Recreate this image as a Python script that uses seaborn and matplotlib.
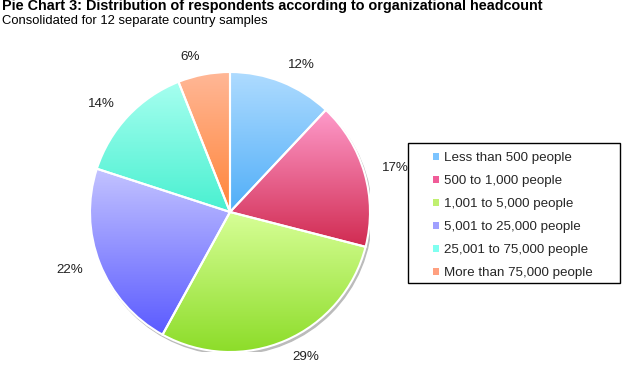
import numpy as np
import matplotlib
matplotlib.use("Agg")
import matplotlib.pyplot as plt
import seaborn as sns
from matplotlib.colors import LinearSegmentedColormap
from matplotlib.patches import Rectangle

categories = ["Less than 500 people", "500 to 1,000 people", "1,001 to 5,000 people",
              "5,001 to 25,000 people", "25,001 to 75,000 people", "More than 75,000 people"]
values = [12, 17, 29, 22, 14, 6]
top_colors = ["#b0dcff", "#ff9ccc", "#d8ff98", "#c4c4ff", "#a8fff0", "#ffb898"]
bottom_colors = ["#50aef8", "#d02a50", "#8cdc28", "#5a5aff", "#48f0d0", "#ff8438"]
legend_colors = ["#7cc4ff", "#f05c98", "#c0f070", "#a0a0ff", "#80fff0", "#ffa080"]

sns.set_theme(style="white")
plt.rcParams['font.family'] = ['Liberation Sans', 'DejaVu Sans']

W, H = 633, 383
fig = plt.figure(figsize=(W/100, H/100), dpi=100)
cx, cy, r = 230, 212, 140
ax = fig.add_axes([(cx - r)/W, (H - cy - r)/H, 2*r/W, 2*r/H])
ax.axis("off")

shadow = plt.Circle((0.012, -0.018), 1.0, color="#bbbbbb", zorder=0)
ax.add_patch(shadow)

wedges, texts = ax.pie(values, startangle=90, counterclock=False, radius=1.0,
                       labels=[f"{v}%" for v in values], labeldistance=1.13,
                       wedgeprops=dict(edgecolor="white", linewidth=1.5),
                       textprops=dict(fontsize=9.6, color="#222222"))

for w, c1, c2 in zip(wedges, top_colors, bottom_colors):
    w.set_facecolor("none")
    w.set_zorder(3)
    th = np.radians(np.linspace(w.theta1, w.theta2, 100))
    ys = np.concatenate([[0], np.sin(th)])
    xs = np.concatenate([[0], np.cos(th)])
    y0, y1 = ys.min(), ys.max()
    x0, x1 = xs.min(), xs.max()
    cmap = LinearSegmentedColormap.from_list("g", [c2, c1])
    grad = np.linspace(0, 1, 256).reshape(-1, 1)
    im = ax.imshow(grad, cmap=cmap, origin="lower",
                   extent=[x0 - 0.01, x1 + 0.01, y0 - 0.01, y1 + 0.01],
                   aspect="auto", zorder=2, interpolation="bilinear")
    im.set_clip_path(w.get_path(), transform=w.get_transform())

ax.set_xlim(-1, 1)
ax.set_ylim(-1, 1)
for t in texts:
    t.set_zorder(5)

fig.text(2/W, 1 - 6/H, "Pie Chart 3: Distribution of respondents according to organizational headcount",
         fontsize=10.4, fontweight="bold", va="center", ha="left", color="black")
fig.text(2/W, 1 - 21/H, "Consolidated for 12 separate country samples",
         fontsize=9.4, va="center", ha="left", color="black")

# legend frame
fig.add_artist(Rectangle((408/W, 1 - 283/H), 212/W, 140/H, transform=fig.transFigure,
                         facecolor="white", edgecolor="black", linewidth=1.0, zorder=1))

handles = [Rectangle((0, 0), 1, 1, facecolor=c, edgecolor="none") for c in legend_colors]
leg = fig.legend(handles, categories, loc="upper left",
                 bbox_to_anchor=(433/W, 1 - 152/H),
                 fontsize=9.6, frameon=False, borderaxespad=0, borderpad=0,
                 handlelength=0.45, handleheight=0.45, handletextpad=0.35,
                 labelspacing=0.83)
leg.set_zorder(2)

fig.savefig("out.png", dpi=100, facecolor="white")
